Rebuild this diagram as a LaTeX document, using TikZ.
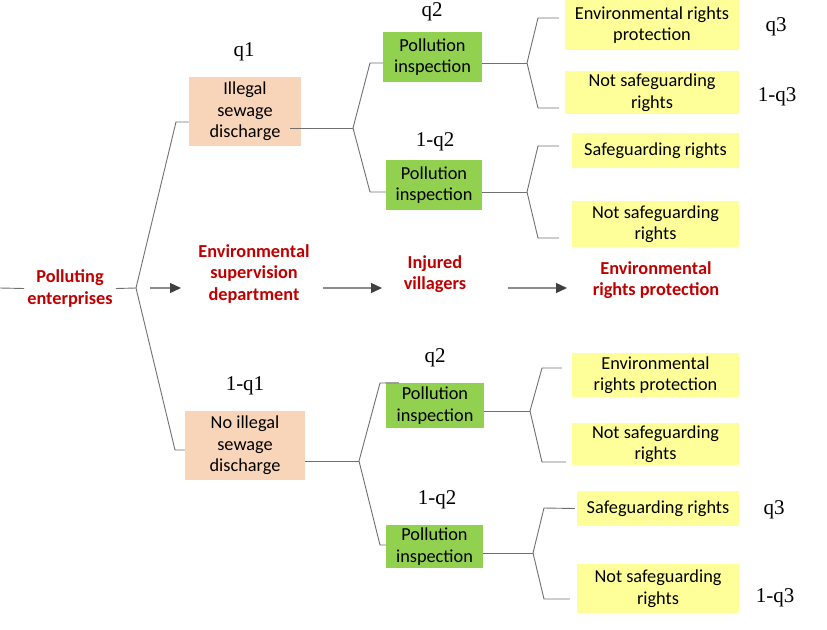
\documentclass[tikz,border=0pt]{standalone}
\usepackage{fontspec}
\setmainfont{Carlito}
\newfontfamily\probfont{Liberation Serif}
\usetikzlibrary{arrows.meta}
\definecolor{peach}{HTML}{F8D5B8}
\definecolor{leaf}{HTML}{92D050}
\definecolor{pale}{HTML}{FFFF99}
\definecolor{darkred}{HTML}{C00000}
\definecolor{edgegray}{HTML}{707070}
\definecolor{headgray}{HTML}{404040}
\tikzset{
  box/.style={inner sep=0pt, align=center, font=\fontsize{18.3}{21.5}\selectfont},
  actbox/.style={box, fill=peach},
  insbox/.style={box, fill=leaf},
  outbox/.style={box, fill=pale},
  prob/.style={inner sep=0pt, font=\probfont\fontsize{21}{21}\selectfont},
  actor/.style={inner sep=3pt, align=center, text=darkred, font=\bfseries\fontsize{18.3}{21.5}\selectfont},
  tree/.style={draw=edgegray, line width=0.9pt},
  flow/.style={draw=edgegray!80, line width=1.3pt, -{Triangle[length=11pt,width=10pt,color=headgray]}}
}
\begin{document}
\begin{tikzpicture}[x=1pt,y=-1pt]
\useasboundingbox (0,0) rectangle (827,629);
%%% The players along the middle line
\node[actor] (firm) at (70,288.5) {Polluting\\enterprises};
\node[actor] (gov) at (254,274) {Environmental\\supervision\\department};
\node[actor] (vil) at (435,274) {Injured\\villagers};
\node[actor] (prot) at (656,280) {Environmental\\rights protection};
%%% The choices of the enterprise
\node[actbox, minimum width=112pt, minimum height=69pt] (sew1) at (245,111.5) {Illegal\\sewage\\discharge};
\node[actbox, minimum width=120pt, minimum height=69pt] (sew2) at (245,445.5) {No illegal\\sewage\\discharge};
\node[prob] (p1) at (244,52) {q1};
\node[prob] (p2) at (245,386) {1-q1};
%%% The choices of the department
\node[insbox, minimum width=99pt, minimum height=50pt] (ins1) at (432.5,57) {Pollution\\inspection};
\node[insbox, minimum width=96pt, minimum height=50pt] (ins2) at (434,185) {Pollution\\inspection};
\node[insbox, minimum width=98pt, minimum height=45pt] (ins3) at (435,405.5) {Pollution\\inspection};
\node[insbox, minimum width=97pt, minimum height=43pt] (ins4) at (434.5,546.5) {Pollution\\inspection};
\node[prob] (p3) at (432,12) {q2};
\node[prob] (p4) at (435,142) {1-q2};
\node[prob] (p5) at (435,358) {q2};
\node[prob] (p6) at (437,500) {1-q2};
%%% The choices of the villagers
\node[outbox, minimum width=174pt, minimum height=50pt] (out1) at (652,25) {Environmental rights\\protection};
\node[outbox, minimum width=174pt, minimum height=43pt] (out2) at (652,92.5) {Not safeguarding\\rights};
\node[outbox, minimum width=167pt, minimum height=35pt] (out3) at (655.5,150.5) {Safeguarding rights};
\node[outbox, minimum width=167pt, minimum height=46pt] (out4) at (655.5,224) {Not safeguarding\\rights};
\node[outbox, minimum width=167pt, minimum height=44pt] (out5) at (655.5,375) {Environmental\\rights protection};
\node[outbox, minimum width=167pt, minimum height=42pt] (out6) at (655.5,444) {Not safeguarding\\rights};
\node[outbox, minimum width=162pt, minimum height=35pt] (out7) at (658,508.5) {Safeguarding rights};
\node[outbox, minimum width=162pt, minimum height=49pt] (out8) at (658,588.5) {Not safeguarding\\rights};
\node[prob] (p7) at (776,27) {q3};
\node[prob] (p8) at (777,97) {1-q3};
\node[prob] (p9) at (774,510) {q3};
\node[prob] (p10) at (775,598) {1-q3};
%%% The branch points
\coordinate (root) at (0,288);
\coordinate (j0) at (136,288);
\coordinate (j1) at (353,128);
\coordinate (j2) at (527,63);
\coordinate (j3) at (527,192);
\coordinate (j4) at (359,461);
\coordinate (j5) at (530,411);
\coordinate (j6) at (533,553);
%%% The tree of the enterprise
\draw[tree] (root) -- (firm.west);
\draw[tree] (firm.east) -- (j0);
\draw[tree] (j0) -- (176,122) -- ([yshift=-10.5pt]sew1.west);
\draw[tree] (j0) -- (175,450) -- ([yshift=-4.5pt]sew2.west);
%%% The tree of the department
\draw[tree] ([xshift=-11pt,yshift=-16.5pt]sew1.east) -- (j1);
\draw[tree] (j1) -- (370,63) -- ([yshift=-6pt]ins1.west);
\draw[tree] (j1) -- (370,192) -- ([yshift=-7pt]ins2.west);
%
\draw[tree] ([yshift=-15.5pt]sew2.east) -- (j4);
\draw[tree] (j4) -- (380,383) -- ([xshift=13pt]ins3.north west);
\draw[tree] (j4) -- (380,545) -- ([yshift=1.5pt]ins4.west);
%%% The tree of the villagers
\draw[tree] ([yshift=-6pt]ins1.east) -- (j2);
\draw[tree] (j2) -- (538,18) -- ([xshift=-6pt,yshift=7pt]out1.west);
\draw[tree] (j2) -- (538,108) -- ([xshift=-6pt,yshift=-15.5pt]out2.west);
%
\draw[tree] ([yshift=-7pt]ins2.east) -- (j3);
\draw[tree] (j3) -- (538,146) -- ([xshift=-13pt,yshift=4.5pt]out3.west);
\draw[tree] (j3) -- (538,238) -- ([xshift=-13pt,yshift=-14pt]out4.west);
%
\draw[tree] ([yshift=-5.5pt]ins3.east) -- (j5);
\draw[tree] (j5) -- (542,368) -- ([xshift=-10pt,yshift=7pt]out5.west);
\draw[tree] (j5) -- (542,462) -- ([xshift=-6pt,yshift=-18pt]out6.west);
%
\draw[tree] ([yshift=-6.5pt]ins4.east) -- (j6);
\draw[tree] (j6) -- (544,508) -- ([xshift=-2pt]out7.west);
\draw[tree] (j6) -- (544,599) -- ([xshift=-7pt,yshift=-10.5pt]out8.west);
%%% The order of the moves
\coordinate (f1) at (150,288);
\coordinate (f2) at (181,288);
\coordinate (f3) at (323,288);
\coordinate (f4) at (382,288);
\coordinate (f5) at (508,288);
\coordinate (f6) at (567,288);
\draw[flow] (f1) -- (f2);
\draw[flow] (f3) -- (f4);
\draw[flow] (f5) -- (f6);
\end{tikzpicture}
\end{document}
